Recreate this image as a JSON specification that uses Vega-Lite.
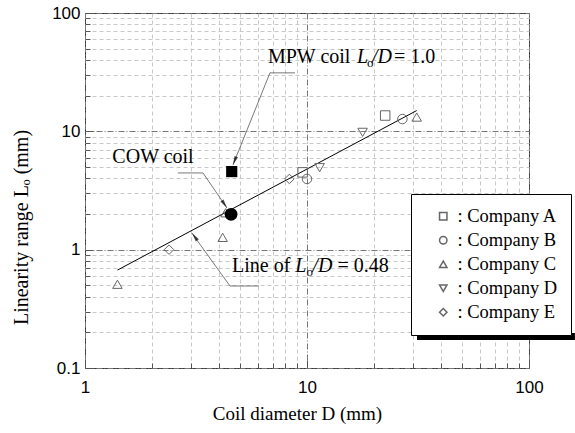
{
  "$schema": "https://vega.github.io/schema/vega-lite/v6.json",
  "autosize": "none",
  "padding": {"left": 85, "top": 13, "right": 46, "bottom": 65},
  "width": 444,
  "height": 355,
  "background": "white",
  "config": {
    "view": {"stroke": "#333", "strokeWidth": 1},
    "font": "Liberation Serif"
  },
  "datasets": {
    "companies": [
      {"company": "Company A", "D": 22.5, "L": 13.6},
      {"company": "Company A", "D": 9.56, "L": 4.5},
      {"company": "Company B", "D": 26.9, "L": 12.7},
      {"company": "Company B", "D": 10.0, "L": 3.96},
      {"company": "Company C", "D": 31.2, "L": 13.2},
      {"company": "Company C", "D": 4.17, "L": 1.27},
      {"company": "Company C", "D": 1.4, "L": 0.51},
      {"company": "Company C", "D": 4.3, "L": 2.05},
      {"company": "Company D", "D": 17.8, "L": 9.8},
      {"company": "Company D", "D": 11.4, "L": 4.93},
      {"company": "Company E", "D": 2.39, "L": 1.0},
      {"company": "Company E", "D": 8.33, "L": 3.96}
    ],
    "fit": [
      {"D": 1.4, "L": 0.672},
      {"D": 31.2, "L": 14.98}
    ],
    "shadow": [{"D": 31.3, "L": 0.1977, "D2": 161, "L2": 0.1724}],
    "cow": [{"name": "COW coil", "D": 4.55, "L": 1.99}],
    "mpw": [{"name": "MPW coil", "D": 4.58, "L": 4.57}],
    "leaders": [
      {"id": "MPW", "D": 8.83, "L": 31.2},
      {"id": "MPW", "D": 6.81, "L": 31.2},
      {"id": "MPW", "D": 4.64, "L": 5.2},
      {"id": "COW", "D": 2.62, "L": 4.45},
      {"id": "COW", "D": 3.40, "L": 4.45},
      {"id": "COW", "D": 4.36, "L": 2.25},
      {"id": "LINE", "D": 6.08, "L": 0.493},
      {"id": "LINE", "D": 4.50, "L": 0.493},
      {"id": "LINE", "D": 3.03, "L": 1.38}
    ],
    "arrows": [
      {"id": "MPW", "D": 4.72, "L": 5.64},
      {"id": "COW", "D": 4.25, "L": 2.42},
      {"id": "LINE", "D": 3.12, "L": 1.288}
    ],
    "annoNormal": [
      {"t": "MPW coil", "D": 6.67, "L": 37.5},
      {"t": "= 1.0", "D": 24.65, "L": 37.5},
      {"t": "COW coil", "D": 1.328, "L": 5.44},
      {"t": "Line of", "D": 4.594, "L": 0.648},
      {"t": "= 0.48", "D": 13.72, "L": 0.648}
    ],
    "annoItalic": [
      {"t": "L", "D": 16.8, "L": 37.5},
      {"t": "/D", "D": 19.62, "L": 37.5},
      {"t": "L", "D": 8.86, "L": 0.648},
      {"t": "/D", "D": 10.59, "L": 0.648}
    ],
    "annoSub": [
      {"t": "o", "D": 18.64, "L": 34.7},
      {"t": "o", "D": 9.95, "L": 0.599}
    ]
  },
  "encoding": {
    "x": {
      "field": "D",
      "type": "quantitative",
      "scale": {"type": "log", "domain": [1, 100], "nice": false},
      "axis": {
        "values": [1, 2, 3, 4, 5, 6, 7, 8, 9, 10, 20, 30, 40, 50, 60, 70, 80, 90, 100],
        "labelExpr": "(datum.value == 1 || datum.value == 10 || datum.value == 100) ? format(datum.value, '~g') : ''",
        "labelFont": "Liberation Sans",
        "labelFontSize": 17,
        "labelColor": "black",
        "labelPadding": 19,
        "labelFlush": false,
        "labelOverlap": false,
        "labelBound": false,
        "domain": false,
        "grid": true,
        "gridColor": {"condition": {"test": "datum.value == 1 || datum.value == 10 || datum.value == 100", "value": "#777"}, "value": "#c8c8c8"},
        "gridDash": {"condition": {"test": "datum.value == 1 || datum.value == 10 || datum.value == 100", "value": [6, 2, 1, 2]}, "value": [4, 3]},
        "gridWidth": 1,
        "ticks": true,
        "tickColor": "#555",
        "tickSize": {"condition": {"test": "datum.value == 1 || datum.value == 10 || datum.value == 100", "value": -8}, "value": -5},
        "title": "Coil diameter    D (mm)",
        "titleFont": "Liberation Serif",
        "titleFontSize": 19,
        "titleFontWeight": "normal",
        "titleColor": "black",
        "titleX": 212,
        "titlePadding": 6
      }
    },
    "y": {
      "field": "L",
      "type": "quantitative",
      "scale": {"type": "log", "domain": [0.1, 100], "nice": false},
      "axis": {
        "values": [0.1, 0.2, 0.3, 0.4, 0.5, 0.6, 0.7, 0.8, 0.9, 1, 2, 3, 4, 5, 6, 7, 8, 9, 10, 20, 30, 40, 50, 60, 70, 80, 90, 100],
        "labelExpr": "(datum.value == 0.1 || datum.value == 1 || datum.value == 10 || datum.value == 100) ? format(datum.value, '~g') : ''",
        "labelFont": "Liberation Sans",
        "labelFontSize": 17,
        "labelColor": "black",
        "labelPadding": 13,
        "labelFlush": false,
        "labelOverlap": false,
        "labelBound": false,
        "domain": false,
        "grid": true,
        "gridColor": {"condition": {"test": "datum.value == 0.1 || datum.value == 1 || datum.value == 10 || datum.value == 100", "value": "#777"}, "value": "#c8c8c8"},
        "gridDash": {"condition": {"test": "datum.value == 0.1 || datum.value == 1 || datum.value == 10 || datum.value == 100", "value": [6, 2, 1, 2]}, "value": [4, 3]},
        "gridWidth": 1,
        "ticks": true,
        "tickColor": "#555",
        "tickSize": {"condition": {"test": "datum.value == 0.1 || datum.value == 1 || datum.value == 10 || datum.value == 100", "value": -8}, "value": -5},
        "title": "Linearity range  Lₒ (mm)",
        "titleFont": "Liberation Serif",
        "titleFontSize": 20,
        "titleFontWeight": "normal",
        "titleColor": "black",
        "titleY": 214,
        "titlePadding": 20
      }
    }
  },
  "layer": [
    {
      "data": {"name": "shadow"},
      "mark": {"type": "rect", "color": "black", "clip": false},
      "encoding": {
        "x2": {"field": "D2"},
        "y2": {"field": "L2"}
      }
    },
    {
      "data": {"name": "fit"},
      "mark": {"type": "line", "color": "black", "strokeWidth": 1}
    },
    {
      "data": {"name": "leaders"},
      "mark": {"type": "line", "color": "#555", "strokeWidth": 0.8},
      "encoding": {"detail": {"field": "id"}}
    },
    {
      "data": {"name": "arrows"},
      "transform": [{"filter": "datum.id == 'MPW'"}],
      "mark": {"type": "point", "filled": true, "color": "black", "shape": "M0,-1L0.42,1L-0.42,1Z", "size": 81, "angle": 202}
    },
    {
      "data": {"name": "arrows"},
      "transform": [{"filter": "datum.id == 'COW'"}],
      "mark": {"type": "point", "filled": true, "color": "black", "shape": "M0,-1L0.42,1L-0.42,1Z", "size": 81, "angle": 145.5}
    },
    {
      "data": {"name": "arrows"},
      "transform": [{"filter": "datum.id == 'LINE'"}],
      "mark": {"type": "point", "filled": true, "color": "black", "shape": "M0,-1L0.42,1L-0.42,1Z", "size": 81, "angle": 324.3}
    },
    {
      "data": {"name": "companies"},
      "mark": {"type": "point", "filled": false, "color": "#666", "strokeWidth": 1, "size": 90, "opacity": 1},
      "encoding": {
        "shape": {
          "field": "company",
          "type": "nominal",
          "scale": {
            "domain": ["Company A", "Company B", "Company C", "Company D", "Company E"],
            "range": ["square", "circle", "triangle-up", "triangle-down", "diamond"]
          },
          "legend": {
            "orient": "none",
            "legendX": 326,
            "legendY": 181,
            "title": null,
            "padding": 13,
            "strokeColor": "black",
            "fillColor": "white",
            "symbolOffset": 10,
            "labelOffset": 5,
            "labelFont": "Liberation Serif",
            "labelFontSize": 18.5,
            "labelColor": "black",
            "symbolSize": 55,
            "rowPadding": 5,
            "labelExpr": "': ' + datum.label"
          }
        }
      }
    },
    {
      "data": {"name": "cow"},
      "mark": {"type": "point", "filled": true, "color": "black", "shape": "circle", "size": 165, "opacity": 1}
    },
    {
      "data": {"name": "mpw"},
      "mark": {"type": "point", "filled": true, "color": "black", "shape": "square", "size": 125, "opacity": 1}
    },
    {
      "data": {"name": "annoNormal"},
      "mark": {"type": "text", "align": "left", "baseline": "alphabetic", "font": "Liberation Serif", "fontSize": 20, "fill": "black"},
      "encoding": {"text": {"field": "t"}}
    },
    {
      "data": {"name": "annoItalic"},
      "mark": {"type": "text", "align": "left", "baseline": "alphabetic", "font": "Liberation Serif", "fontStyle": "italic", "fontSize": 20, "fill": "black"},
      "encoding": {"text": {"field": "t"}}
    },
    {
      "data": {"name": "annoSub"},
      "mark": {"type": "text", "align": "left", "baseline": "alphabetic", "font": "Liberation Serif", "fontSize": 13, "fill": "black"},
      "encoding": {"text": {"field": "t"}}
    }
  ]
}
